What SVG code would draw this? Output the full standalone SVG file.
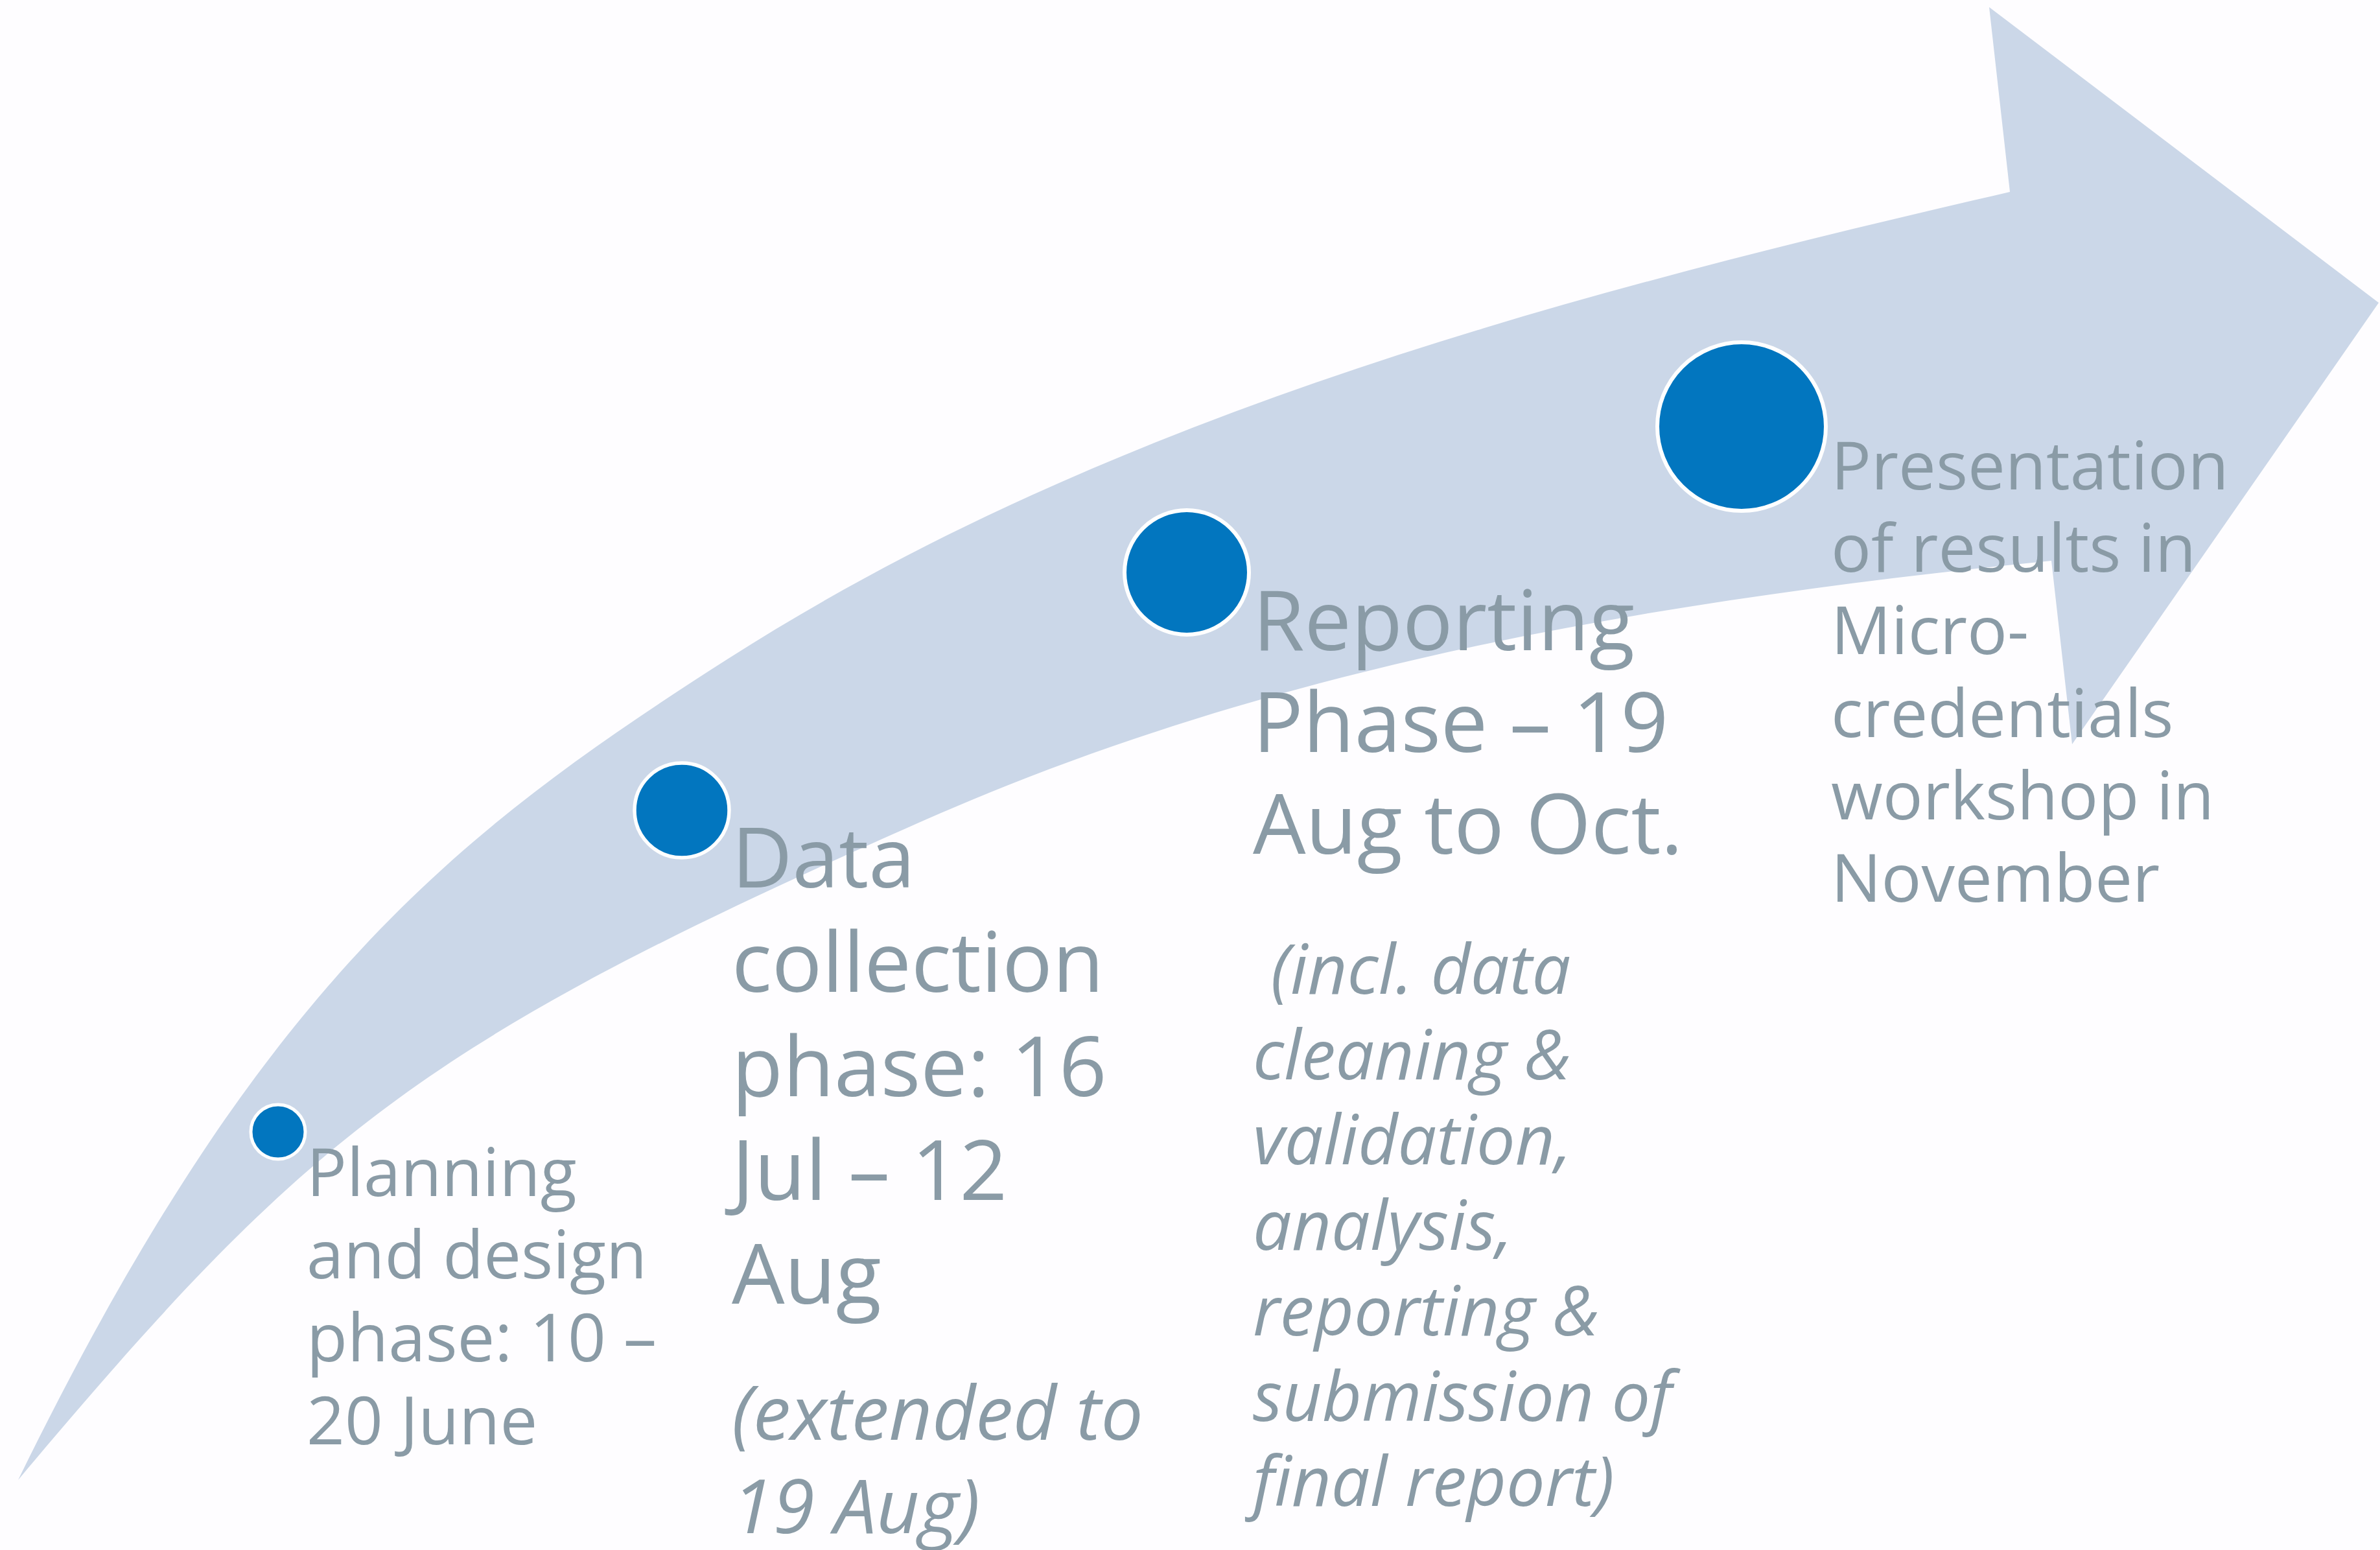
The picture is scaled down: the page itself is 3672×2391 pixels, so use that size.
<svg xmlns="http://www.w3.org/2000/svg" width="3672" height="2391" viewBox="0 0 3672 2391">
  <style>
    .bg { fill: #FEFDFF; }
    .band { fill: #CBD7E8; }
    .dot { fill: #0276BF; stroke: #FFFFFF; }
    .lbl { font-family: "Open Sans", "Noto Sans", "Liberation Sans", sans-serif; fill: #8A9BA6; }
    .it { font-style: italic; }
  </style>
  <rect class="bg" x="0" y="0" width="3672" height="2391"/>
  <g id="arrow">
    <path class="band" d="M28,2283 C402,1518 701,1286.5 1122,1017 C1711,640 2419,453.5 3101,296 L3069,11 L3670,467 L3197,1148 L3165,865 C2568,925 1978,1022 1429,1264 C651,1607 478,1747 28,2283 Z"/>
  </g>
  <g id="connectors"/>
  <g id="node-planning">
    <circle class="dot" cx="429" cy="1746" r="42" stroke-width="5"/>
    <text class="lbl" font-size="103">
      <tspan x="473" y="1845">Planning</tspan>
      <tspan x="473" y="1972">and design</tspan>
      <tspan x="473" y="2100">phase: 10 –</tspan>
      <tspan x="473" y="2228">20 June</tspan>
    </text>
  </g>
  <g id="node-data">
    <circle class="dot" cx="1052" cy="1250" r="73" stroke-width="5.5"/>
    <text class="lbl" font-size="129">
      <tspan x="1129" y="1369">Data</tspan>
      <tspan x="1129" y="1530">collection</tspan>
      <tspan x="1129" y="1691">phase: 16</tspan>
      <tspan x="1129" y="1851">Jul – 12</tspan>
      <tspan x="1129" y="2011">Aug</tspan>
    </text>
    <text class="lbl it" font-size="116">
      <tspan x="1129" y="2221">(extended to</tspan>
      <tspan x="1129" y="2365">19 Aug)</tspan>
    </text>
  </g>
  <g id="node-reporting">
    <circle class="dot" cx="1831" cy="883" r="96" stroke-width="6"/>
    <text class="lbl" font-size="129">
      <tspan x="1933" y="1003">Reporting</tspan>
      <tspan x="1933" y="1160">Phase – 19</tspan>
      <tspan x="1933" y="1317">Aug to Oct.</tspan>
    </text>
    <text class="lbl it" font-size="106" xml:space="preserve"><tspan x="1933" y="1533"> (incl. data</tspan><tspan x="1933" y="1665">cleaning &amp;</tspan><tspan x="1933" y="1796">validation,</tspan><tspan x="1933" y="1928">analysis,</tspan><tspan x="1933" y="2060">reporting &amp;</tspan><tspan x="1933" y="2192">submission of</tspan><tspan x="1933" y="2323">final report)</tspan></text>
  </g>
  <g id="node-presentation">
    <circle class="dot" cx="2687" cy="658" r="130" stroke-width="6"/>
    <text class="lbl" font-size="103">
      <tspan x="2825" y="755">Presentation</tspan>
      <tspan x="2825" y="882">of results in</tspan>
      <tspan x="2825" y="1009">Micro-</tspan>
      <tspan x="2825" y="1137">credentials</tspan>
      <tspan x="2825" y="1264">workshop in</tspan>
      <tspan x="2825" y="1391">November</tspan>
    </text>
  </g>
</svg>
